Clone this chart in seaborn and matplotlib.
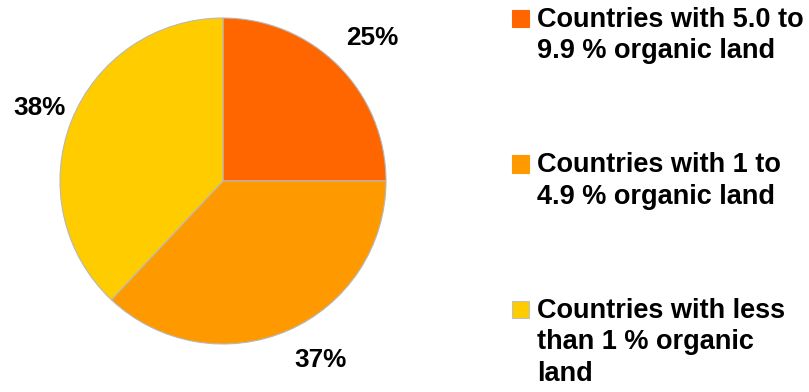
import matplotlib
matplotlib.use("Agg")
import matplotlib.pyplot as plt
from matplotlib.patches import Patch
import seaborn as sns
import numpy as np

# ---- data ----
categories = [
    "Countries with 5.0 to\n9.9 % organic land",
    "Countries with 1 to\n4.9 % organic land",
    "Countries with less\nthan 1 % organic\nland",
]
shares = [25, 37, 38]
pct_labels = ["25%", "37%", "38%"]
colors = ["#FF6600", "#FF9900", "#FFCC00"]

# label placement (layout): angle in degrees, distance in radii
label_angles = [43.8, -61.5, 158.2]
label_dist = [1.267, 1.249, 1.209]

sns.set_theme(style="white")
plt.rcParams["font.family"] = ["Liberation Sans", "DejaVu Sans"]

W, H = 809, 392
fig = plt.figure(figsize=(W / 100, H / 100), dpi=100)
fig.patch.set_facecolor("white")
ax = fig.add_axes([0, 0, 1, 1])

cx, cy, r = 223, H - 181, 163
wedges, _ = ax.pie(
    shares,
    colors=colors,
    startangle=90,
    counterclock=False,
    center=(cx, cy),
    radius=r,
    wedgeprops=dict(edgecolor="#b8b8b8", linewidth=0.8),
    frame=False,
)
for lab, ang, d in zip(pct_labels, label_angles, label_dist):
    a = np.deg2rad(ang)
    ax.text(cx + d * r * np.cos(a), cy + d * r * np.sin(a), lab,
            ha="center", va="center", fontsize=18.8, fontweight="bold",
            color="black")

ax.set_xlim(0, W)
ax.set_ylim(0, H)
ax.set_aspect("equal")
ax.axis("off")

fs = 19.5
lsp = 1.27
handles = [Patch(facecolor=c, edgecolor=(c if i < 2 else "#c0c0c0"), linewidth=0.8)
           for i, c in enumerate(colors)]
leg = fig.legend(handles, categories, loc="upper left",
                 bbox_to_anchor=(512 / W, 1 - 7 / H),
                 frameon=False, borderpad=0, borderaxespad=0,
                 handlelength=0.62, handleheight=0.62, handletextpad=0.3,
                 labelspacing=3.25, labelcolor="black",
                 prop=dict(family=["Liberation Sans", "DejaVu Sans"], weight="bold", size=fs))
for t in leg.get_texts():
    t.set_linespacing(lsp)
# align each handle with the first line of its (multi-line) label
line_h = 31 * 0.72  # line pitch in points
for h, lab in zip(leg.legend_handles, categories):
    n = lab.count("\n")
    h.set_y(h.get_y() + 0.5 * n * line_h + 1.5)

fig.savefig("out.png", dpi=100, facecolor="white")
